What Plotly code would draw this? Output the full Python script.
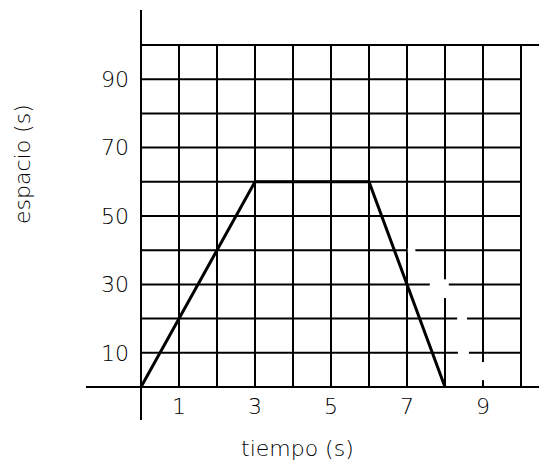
import plotly.graph_objects as go

# ---- data ----
tiempo = [0, 3, 6, 8]
espacio = [0, 60, 60, 0]
x_ticks = [1, 3, 5, 7, 9]
y_ticks = [10, 30, 50, 70, 90]
x_grid = [1, 2, 3, 4, 5, 6, 7, 8, 9, 10]
y_grid = [10, 20, 30, 40, 50, 60, 70, 80, 90]
y_top = 100
x_right = 10
# erased (white) bits of the grid seen in the picture
erase_x = [7.02, 7.22, None, 7.6, 8.1, None, 8.0, 8.0, None, 8.32, 8.58, None, 8.34, 8.63, None, 9.0, 9.0]
erase_y = [40, 40, None, 30, 30, None, 26, 31.5, None, 20, 20, None, 10, 10, None, 2.0, 7.3]

# the page body has an 8px margin, so the figure starts at (8, 8) in the window
OFF = 8
W, H = 547 - OFF, 464 - OFF
L, R, T, B = 86 - OFF, 0, 10 - OFF, 44
px_x0, px_unit = 141 - OFF, 38.0
px_y0, px_unit_y = 387 - OFF, 3.42

xmin = -(px_x0 - L) / px_unit
xmax = (W - R - px_x0) / px_unit
ymax = (px_y0 - T) / px_unit_y
ymin = -(H - B - px_y0) / px_unit_y

font = dict(family="DejaVu Sans", size=22, color="black", weight=200)

fig = go.Figure()
fig.add_trace(go.Scatter(x=erase_x, y=erase_y, mode="lines",
                         line=dict(color="white", width=5), hoverinfo="skip",
                         showlegend=False))
fig.add_trace(go.Scatter(x=tiempo, y=espacio, mode="lines",
                         line=dict(color="black", width=3), showlegend=False))

shapes = []
lw = 2
for gx in x_grid:
    shapes.append(dict(type="line", xref="x", yref="y", x0=gx, x1=gx, y0=0, y1=y_top,
                       line=dict(color="black", width=lw), layer="below"))
for gy in y_grid:
    shapes.append(dict(type="line", xref="x", yref="y", x0=0, x1=x_right, y0=gy, y1=gy,
                       line=dict(color="black", width=lw), layer="below"))
# top line extends to the right edge
shapes.append(dict(type="line", xref="x", yref="y", x0=0, x1=xmax, y0=y_top, y1=y_top,
                   line=dict(color="black", width=lw), layer="below"))
# axes
shapes.append(dict(type="line", xref="paper", yref="y", x0=0, x1=1, y0=0, y1=0,
                   line=dict(color="black", width=lw), layer="below"))
shapes.append(dict(type="line", xref="x", yref="paper", x0=0, x1=0, y0=0, y1=1,
                   line=dict(color="black", width=lw), layer="below"))

plot_w = W - L - R
plot_h = H - T - B

fig.update_layout(
    width=W, height=H,
    margin=dict(l=L, r=R, t=T, b=B, pad=0, autoexpand=False),
    plot_bgcolor="white", paper_bgcolor="white",
    shapes=shapes,
    xaxis=dict(range=[xmin, xmax], showgrid=False, zeroline=False, showline=False,
               tickvals=x_ticks, ticktext=[str(v) for v in x_ticks], ticks="",
               tickfont=font, anchor="free", position=(H - B - px_y0) / plot_h,
               ticklabelstandoff=4, automargin=False, fixedrange=True),
    yaxis=dict(range=[ymin, ymax], showgrid=False, zeroline=False, showline=False,
               tickvals=y_ticks, ticktext=[str(v) for v in y_ticks], ticks="",
               tickfont=font, anchor="free", position=(px_x0 - L) / plot_w,
               ticklabelstandoff=12, automargin=False, fixedrange=True),
    annotations=[
        dict(text="tiempo (s)", xref="paper", yref="paper",
             x=(297 - OFF - L) / plot_w, y=(H - B - (448 - OFF)) / plot_h,
             xanchor="center", yanchor="middle", showarrow=False, font=font),
        dict(text="espacio (s)", xref="paper", yref="paper",
             x=(22 - OFF - L) / plot_w, y=(H - B - (164 - OFF)) / plot_h, textangle=-90,
             xanchor="center", yanchor="middle", showarrow=False, font=font),
    ],
)

fig.write_html("out.html")
